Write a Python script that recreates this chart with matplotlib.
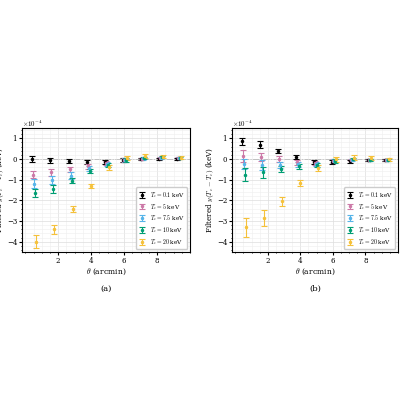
import matplotlib
matplotlib.use('Agg')
import matplotlib.pyplot as plt
import numpy as np

theta = [0.55, 1.65, 2.75, 3.85, 4.95, 6.05, 7.15, 8.25, 9.35]
labels = [r'$T_e=0.1$ keV', r'$T_e=5$ keV', r'$T_e=7.5$ keV', r'$T_e=10$ keV', r'$T_e=20$ keV']
colors = ['black', '#cc79a7', '#56b4e9', '#009e73', '#f5c13a']
a_vals = [
    [0, -0.05, -0.1, -0.15, -0.15, -0.05, 0, 0.02, 0.02],
    [-0.75, -0.65, -0.5, -0.35, -0.2, -0.05, 0, 0.03, 0.03],
    [-1.2, -1.0, -0.8, -0.45, -0.25, -0.05, 0.03, 0.05, 0.05],
    [-1.65, -1.45, -1.05, -0.6, -0.3, -0.05, 0.05, 0.08, 0.05],
    [-4.0, -3.4, -2.4, -1.3, -0.4, 0.05, 0.15, 0.12, 0.07],
]
a_err = [
    [0.15, 0.12, 0.08, 0.08, 0.1, 0.08, 0.06, 0.05, 0.05],
    [0.15, 0.15, 0.12, 0.12, 0.1, 0.08, 0.06, 0.05, 0.05],
    [0.22, 0.2, 0.15, 0.12, 0.1, 0.08, 0.06, 0.05, 0.05],
    [0.2, 0.18, 0.12, 0.1, 0.1, 0.08, 0.06, 0.05, 0.05],
    [0.3, 0.22, 0.15, 0.1, 0.12, 0.1, 0.1, 0.08, 0.06],
]
b_vals = [
    [0.85, 0.7, 0.38, 0.1, -0.15, -0.15, -0.12, -0.05, -0.05],
    [0.15, 0.1, 0.0, -0.15, -0.2, -0.1, -0.05, -0.03, -0.05],
    [-0.25, -0.3, -0.3, -0.25, -0.25, -0.1, -0.05, -0.05, -0.05],
    [-0.75, -0.65, -0.5, -0.35, -0.3, -0.1, 0.0, -0.03, -0.05],
    [-3.3, -2.85, -2.05, -1.15, -0.45, -0.02, 0.05, 0.05, -0.02],
]
b_err = [
    [0.18, 0.15, 0.1, 0.1, 0.08, 0.08, 0.08, 0.06, 0.06],
    [0.28, 0.2, 0.15, 0.12, 0.1, 0.08, 0.06, 0.05, 0.05],
    [0.25, 0.25, 0.15, 0.12, 0.1, 0.08, 0.06, 0.05, 0.05],
    [0.3, 0.25, 0.15, 0.12, 0.1, 0.08, 0.06, 0.05, 0.05],
    [0.45, 0.38, 0.22, 0.15, 0.15, 0.12, 0.12, 0.1, 0.08],
]
offsets = [-0.12, -0.06, 0.0, 0.06, 0.12]

plt.rcParams['font.family'] = 'DejaVu Serif'
plt.rcParams['mathtext.fontset'] = 'cm'
fig = plt.figure(figsize=(4, 4), dpi=100)
axes = [fig.add_axes([0.055, 0.37, 0.42, 0.31]), fig.add_axes([0.58, 0.37, 0.415, 0.31])]
for ax, vals, errs, tag in zip(axes, [a_vals, b_vals], [a_err, b_err], ['(a)', '(b)']):
    for v, e, c, lab, off in zip(vals, errs, colors, labels, offsets):
        ax.errorbar(np.array(theta) + off, v, yerr=e, fmt='o', ms=1.5, color=c,
                    capsize=2, elinewidth=0.8, capthick=0.8, label=lab)
    ax.axhline(0, color='gray', ls='-.', lw=0.7, zorder=0)
    ax.set_xlim(-0.2, 10)
    ax.set_ylim(-4.5, 1.5)
    ax.set_xticks([2, 4, 6, 8])
    ax.set_yticks([-4, -3, -2, -1, 0, 1])
    ax.minorticks_on()
    ax.grid(which='major', color='#dddddd', lw=0.5)
    ax.grid(which='minor', color='#eeeeee', lw=0.4)
    ax.set_axisbelow(True)
    ax.tick_params(labelsize=5, length=2, which='major', pad=1.5)
    ax.tick_params(which='minor', length=1)
    ax.set_xlabel(r'$\theta$ (arcmin)', fontsize=5.5, labelpad=1)
    ax.set_ylabel(r'Filtered $y(T_e-T_e)$ (keV)', fontsize=5.2, labelpad=0.5)
    ax.text(0.0, 1.01, r'$\times10^{-4}$', transform=ax.transAxes, fontsize=5)
    ax.text(0.5, -0.31, tag, transform=ax.transAxes, fontsize=6, ha='center')
    ax.legend(fontsize=4.2, loc='lower right', framealpha=1, handlelength=1.2, borderpad=0.4, labelspacing=0.3)
fig.savefig('out.png', dpi=100)
